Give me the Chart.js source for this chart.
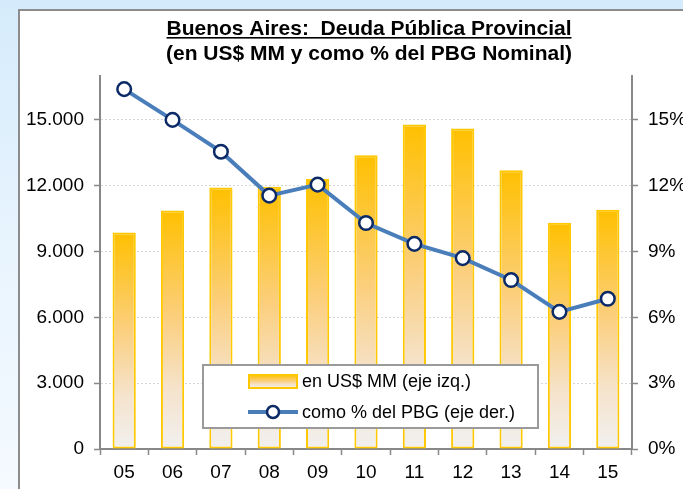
<!DOCTYPE html>
<html>
<head>
<meta charset="utf-8">
<script src="https://cdn.jsdelivr.net/npm/chart.js@4.4.1/dist/chart.umd.min.js"></script>
<style>
  html, body { margin: 0; padding: 0; }
  body { width: 683px; height: 489px; overflow: hidden; position: relative;
         background: linear-gradient(180deg, #d5ebfb 0%, #e8f4fe 50%, #f4faff 100%); }
  #panel { position: absolute; left: 18px; top: 9px; width: 720px; height: 520px;
           background: #ffffff; border: 2px solid #8c8c8c; box-sizing: border-box; }
  #wrap { position: absolute; left: 0; top: 0; width: 683px; height: 489px; }
</style>
</head>
<body>
<div id="panel"></div>
<div id="wrap"><canvas id="c" width="683" height="489"></canvas></div>
<script>
// ---- data ----
const categories = ['05', '06', '07', '08', '09', '10', '11', '12', '13', '14', '15'];
const deudaUSD = [9870, 10870, 11920, 11950, 12310, 13390, 14790, 14610, 12710, 10310, 10900];
const deudaPctPBG = [16.4, 15.0, 13.55, 11.55, 12.05, 10.3, 9.35, 8.7, 7.7, 6.25, 6.85];
const leftTicks = [0, 3000, 6000, 9000, 12000, 15000];
const rightTicks = [0, 3, 6, 9, 12, 15];
const titleLines = ['Buenos Aires:  Deuda Pública Provincial', '(en US$ MM y como % del PBG Nominal)'];
const seriesLabels = ['en US$ MM (eje izq.)', 'como % del PBG (eje der.)'];

const FONT = "'Liberation Sans', Arial, sans-serif";

function barGradient(c, yTop, yBot) {
  const g = c.createLinearGradient(0, yTop, 0, yBot);
  g.addColorStop(0, '#FFC000');
  g.addColorStop(0.45, '#FBCF7E');
  g.addColorStop(0.75, '#F5E3CC');
  g.addColorStop(1, '#F1F0EF');
  return g;
}

const titlePlugin = {
  id: 'ulTitle',
  afterDraw(chart) {
    const c = chart.ctx;
    const cx = 369;
    c.save();
    c.fillStyle = '#000';
    c.textAlign = 'center';
    c.textBaseline = 'alphabetic';
    c.font = 'bold 21px ' + FONT;
    c.fillText(titleLines[0], cx, 35);
    const w = c.measureText(titleLines[0]).width;
    c.fillRect(cx - w / 2, 37, w, 1.6);
    c.fillText(titleLines[1], cx, 60);
    c.restore();
  }
};

const legendPlugin = {
  id: 'boxLegend',
  afterDatasetsDraw(chart) {
    const c = chart.ctx;
    const a = chart.chartArea;
    const x0 = a.left + 103, y0 = a.top + 289, w = 335, h = 63;
    c.save();
    c.fillStyle = '#ffffff';
    c.fillRect(x0, y0, w, h);
    c.strokeStyle = '#9a9a9a';
    c.lineWidth = 2;
    c.strokeRect(x0, y0, w, h);
    // bar swatch
    const sx = x0 + 46, sy = y0 + 10, sw = 48, sh = 13;
    c.fillStyle = barGradient(c, sy, sy + sh);
    c.fillRect(sx, sy, sw, sh);
    c.strokeStyle = '#FFC800';
    c.lineWidth = 2;
    c.strokeRect(sx, sy, sw, sh);
    // line swatch
    const ly = y0 + 47;
    c.strokeStyle = '#4A7EBB';
    c.lineWidth = 4;
    c.beginPath();
    c.moveTo(sx - 1, ly);
    c.lineTo(sx + sw + 1, ly);
    c.stroke();
    c.beginPath();
    c.arc(sx + sw / 2, ly, 6, 0, Math.PI * 2);
    c.fillStyle = '#ffffff';
    c.fill();
    c.strokeStyle = '#0B2A66';
    c.lineWidth = 2.5;
    c.stroke();
    // texts
    c.fillStyle = '#000';
    c.font = '18px ' + FONT;
    c.textAlign = 'left';
    c.textBaseline = 'middle';
    c.fillText(seriesLabels[0], x0 + 99, sy + sh / 2 + 1);
    c.fillText(seriesLabels[1], x0 + 99, ly + 1);
    c.restore();
  }
};

new Chart(document.getElementById('c'), {
  type: 'bar',
  data: {
    labels: categories,
    datasets: [
      {
        type: 'line',
        label: seriesLabels[1],
        data: deudaPctPBG,
        yAxisID: 'y1',
        order: 0,
        borderColor: '#4A7EBB',
        borderWidth: 4,
        tension: 0,
        pointRadius: 6.8,
        pointHoverRadius: 6.8,
        pointBackgroundColor: '#ffffff',
        pointBorderColor: '#0B2A66',
        pointBorderWidth: 2.5,
        clip: false
      },
      {
        type: 'bar',
        label: seriesLabels[0],
        data: deudaUSD,
        yAxisID: 'y',
        order: 1,
        backgroundColor(ctx) {
          const chart = ctx.chart;
          if (ctx.type !== 'data' || !chart.chartArea || !chart.scales.y) return '#FFC000';
          const yTop = chart.scales.y.getPixelForValue(ctx.raw);
          const yBot = chart.scales.y.getPixelForValue(0);
          return barGradient(chart.ctx, yTop, yBot);
        },
        borderColor: '#FFC800',
        borderWidth: 2,
        borderSkipped: false,
        categoryPercentage: 1,
        barPercentage: 0.48
      }
    ]
  },
  options: {
    responsive: false,
    animation: false,
    events: [],
    layout: { padding: { top: 76, left: 0, right: 0, bottom: 0 } },
    plugins: { legend: { display: false }, title: { display: false }, tooltip: { enabled: false } },
    scales: {
      x: {
        grid: { display: true, drawOnChartArea: false, offset: true, tickLength: 6, tickColor: '#888888', tickWidth: 1.5 },
        border: { display: true, color: '#888888', width: 2 },
        ticks: { color: '#000', font: { family: FONT, size: 19 }, padding: 6, maxRotation: 0 },
        afterFit(s) { s.height = 40; }
      },
      y: {
        position: 'left',
        min: 0, max: 17000,
        afterBuildTicks(s) { s.ticks = leftTicks.map(v => ({ value: v })); },
        grid: { color: '#d6d6d6', lineWidth: 1, tickLength: 6, tickColor: '#888888', tickWidth: 1.5 },
        border: { display: true, color: '#888888', width: 2, dash: [2, 2] },
        ticks: {
          color: '#000', font: { family: FONT, size: 19 }, padding: 10,
          callback: v => v.toLocaleString('de-DE')
        },
        afterFit(s) { s.width = 100; }
      },
      y1: {
        position: 'right',
        min: 0, max: 17,
        afterBuildTicks(s) { s.ticks = rightTicks.map(v => ({ value: v })); },
        grid: { drawOnChartArea: false, tickLength: 6, tickColor: '#888888', tickWidth: 1.5 },
        border: { display: true, color: '#888888', width: 2 },
        ticks: {
          color: '#000', font: { family: FONT, size: 19 }, padding: 10,
          callback: v => v + '%'
        },
        afterFit(s) { s.width = 51; }
      }
    }
  },
  plugins: [legendPlugin, titlePlugin]
});
</script>
</body>
</html>
